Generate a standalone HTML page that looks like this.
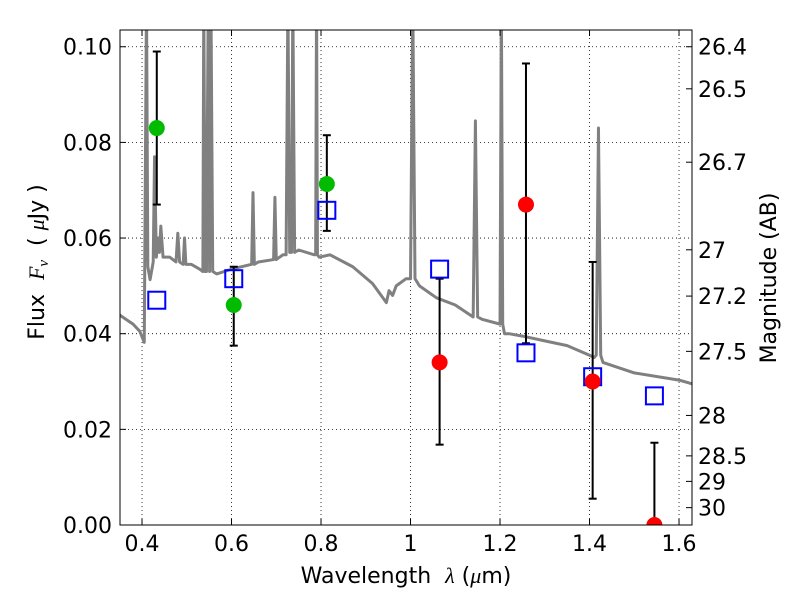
<!DOCTYPE html>
<html><head><meta charset="utf-8"><style>
body{margin:0;background:#fff;}
svg text{font-family:"DejaVu Sans","Liberation Sans",sans-serif;white-space:pre;}
</style></head><body>
<svg id="chart" width="800" height="600" xmlns="http://www.w3.org/2000/svg">
<rect width="800" height="600" fill="#fff"/>
<g id="grid"></g><g id="spec"></g><g id="marks"></g><g id="axes"></g>
</svg>
<script>
const specX=[0.35,0.38,0.395,0.405,0.41,0.413,0.418,0.425,0.428,0.432,0.436,0.439,0.442,0.447,0.462,0.476,0.48,0.484,0.492,0.495,0.498,0.51,0.529,0.536,0.538,0.541,0.544,0.548,0.551,0.554,0.558,0.567,0.6,0.645,0.648,0.651,0.66,0.694,0.697,0.7,0.715,0.722,0.726,0.73,0.734,0.737,0.741,0.75,0.785,0.788,0.79,0.792,0.796,0.82,0.871,0.915,0.946,0.952,0.96,0.968,0.99,1.0,1.005,1.01,1.02,1.058,1.1,1.14,1.145,1.15,1.16,1.2,1.203,1.206,1.21,1.22,1.25,1.3,1.35,1.4,1.41,1.415,1.42,1.425,1.43,1.5,1.6,1.63];
const specY=[0.0439,0.042,0.0405,0.0382,0.11,0.054,0.0513,0.055,0.077,0.056,0.06,0.057,0.0625,0.056,0.056,0.055,0.061,0.055,0.0545,0.06,0.0545,0.0545,0.0535,0.053,0.11,0.053,0.053,0.11,0.053,0.11,0.053,0.0525,0.0535,0.0545,0.0695,0.0545,0.055,0.0555,0.0685,0.0555,0.0565,0.0565,0.11,0.057,0.057,0.11,0.057,0.0575,0.0565,0.0565,0.11,0.0565,0.056,0.0565,0.054,0.0505,0.0465,0.049,0.048,0.05,0.0515,0.0515,0.11,0.0515,0.05,0.0475,0.046,0.0435,0.0845,0.0435,0.043,0.042,0.11,0.042,0.04,0.04,0.0395,0.0385,0.0375,0.0355,0.035,0.0355,0.083,0.0355,0.034,0.0318,0.0303,0.0295];
const bandX=[0.433,0.605,0.813,1.065,1.258,1.407,1.545];
const obsFlux=[0.083,0.046,0.0713,0.034,0.067,0.030,0.0];
const errLo=[0.067,0.0375,0.0615,0.0168,0.038,0.0055,0.0];
const errHi=[0.099,0.054,0.0815,0.0515,0.0965,0.055,0.0172];
const obsColor=['#00bb00','#00bb00','#00bb00','#ff0000','#ff0000','#ff0000','#ff0000'];
const modelFlux=[0.047,0.0515,0.0658,0.0535,0.036,0.031,0.027];
const xTicks=[0.4,0.6,0.8,1.0,1.2,1.4,1.6];
const xTickLabels=['0.4','0.6','0.8','1','1.2','1.4','1.6'];
const yTicks=[0,0.02,0.04,0.06,0.08,0.10];
const yTickLabels=['0.00','0.02','0.04','0.06','0.08','0.10'];
const magTicks=[26.4,26.5,26.7,27,27.2,27.5,28,28.5,29,30];

const L=120,R=692,T=30,B=525,X0=0.3508,X1=1.629,Y0=0,Y1=0.1035;
const sx=v=>L+(v-X0)/(X1-X0)*(R-L);
const sy=v=>B-(v-Y0)/(Y1-Y0)*(B-T);
const NS='http://www.w3.org/2000/svg';
function mk(p,tag,at){const e=document.createElementNS(NS,tag);for(const k in at)e.setAttribute(k,at[k]);p.appendChild(e);return e;}
const grid=document.getElementById('grid'),spec=document.getElementById('spec'),marks=document.getElementById('marks'),axes=document.getElementById('axes');
const svg=document.getElementById('chart');
const clip=mk(svg,'clipPath',{id:'pc'});mk(clip,'rect',{x:L,y:T,width:R-L,height:B-T});
spec.setAttribute('clip-path','url(#pc)');marks.setAttribute('clip-path','url(#pc)');
xTicks.forEach((v,i)=>{const x=sx(v);
 const g=mk(grid,'line',{x1:x,x2:x,y1:T,y2:B,stroke:'#000','stroke-dasharray':'1,3','stroke-width':0.8});
 
 mk(axes,'line',{x1:x,x2:x,y1:B,y2:B-6,stroke:'#000'});mk(axes,'line',{x1:x,x2:x,y1:T,y2:T+6,stroke:'#000'});
 const t=mk(axes,'text',{x:x,y:B+26,'text-anchor':'middle','font-size':22});t.textContent=xTickLabels[i];
 });
yTicks.forEach((v,i)=>{const y=sy(v);
 const g=mk(grid,'line',{x1:L,x2:R,y1:y,y2:y,stroke:'#000','stroke-dasharray':'1,3','stroke-width':0.8});
 
 mk(axes,'line',{x1:L,x2:L+6,y1:y,y2:y,stroke:'#000'});
 const t=mk(axes,'text',{x:L-8,y:y+8,'text-anchor':'end','font-size':22});t.textContent=yTickLabels[i];
 });
magTicks.forEach(m=>{const f=Math.pow(10,(23.9-m)/2.5);const y=sy(f);
 mk(axes,'line',{x1:R,x2:R-6,y1:y,y2:y,stroke:'#000'});
 const t=mk(axes,'text',{x:R+6,y:y+8,'font-size':22});t.textContent=String(m);
 });
const sp=mk(spec,'polyline',{points:specX.map((x,i)=>sx(x)+','+sy(specY[i])).join(' '),fill:'none',stroke:'#808080','stroke-width':3,'stroke-linejoin':'round'});

bandX.forEach((b,i)=>{const x=sx(b);
 const e=mk(marks,'g',{stroke:'#000','stroke-width':2});
 
 mk(e,'line',{x1:x,x2:x,y1:sy(errLo[i]),y2:sy(errHi[i])});
 mk(e,'line',{x1:x-4,x2:x+4,y1:sy(errLo[i]),y2:sy(errLo[i])});
 mk(e,'line',{x1:x-4,x2:x+4,y1:sy(errHi[i]),y2:sy(errHi[i])});
 const s=mk(marks,'rect',{x:x-8.5,y:sy(modelFlux[i])-8.5,width:17,height:17,fill:'none',stroke:'#0000ff','stroke-width':2});
 
 const c=mk(marks,'circle',{cx:x,cy:sy(obsFlux[i]),r:8,fill:obsColor[i]});
 });
const fr=mk(axes,'rect',{x:L,y:T,width:R-L,height:B-T,fill:'none',stroke:'#000','stroke-width':1});

const xt=mk(axes,'text',{x:406,y:583,'text-anchor':'middle','font-size':22});xt.innerHTML='Wavelength  <tspan font-style="italic" font-family="Liberation Serif">λ</tspan> (<tspan font-style="italic" font-family="Liberation Serif">μ</tspan>m)';

const yt=mk(axes,'text',{transform:'translate(44,262) rotate(-90)','text-anchor':'middle','font-size':22});yt.innerHTML='Flux  <tspan font-style="italic" font-family="Liberation Serif">F</tspan><tspan font-style="italic" font-size="15" font-family="Liberation Serif" dy="4">ν</tspan><tspan dy="-4">  ( </tspan><tspan font-style="italic" font-family="Liberation Serif">μ</tspan>Jy )';

const rt=mk(axes,'text',{transform:'translate(776,278) rotate(-90)','text-anchor':'middle','font-size':22});rt.textContent='Magnitude (AB)';

</script>
</body></html>
